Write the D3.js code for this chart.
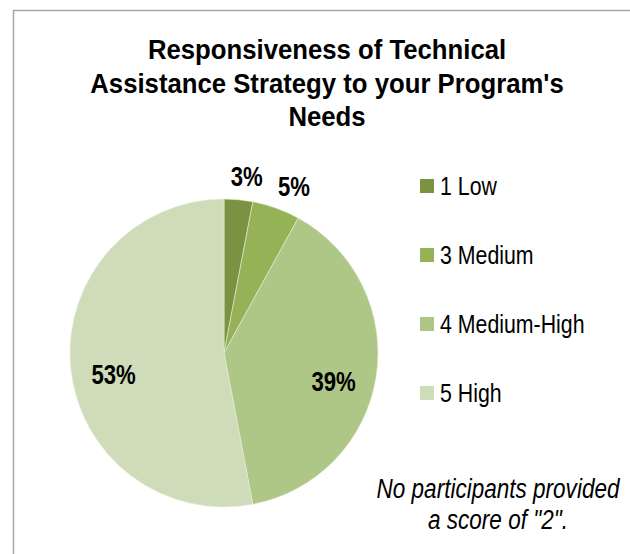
<!DOCTYPE html>
<html>
<head>
<meta charset="utf-8">
<script src="https://cdn.jsdelivr.net/npm/d3@7"></script>
<style>
  body { margin: 0; background: #fff; }
  svg text { font-family: "Liberation Sans", Arial, sans-serif; fill: #000; }
</style>
</head>
<body>
<svg id="chart" width="630" height="554"></svg>
<script>
const categories = ["1 Low", "3 Medium", "4 Medium-High", "5 High"];
const percents = [3, 5, 39, 53];
const sliceColors = ["#7a9242", "#95b256", "#afc786", "#cfdcba"];
const titleLines = ["Responsiveness of Technical", "Assistance Strategy to your Program's", "Needs"];
const noteLines = ["No participants provided", "a score of \"2\"."];

// labels in the original are Arial Narrow, so squeeze Liberation Sans
const narrow = 0.82;

const svg = d3.select("#chart");

// chart frame (runs off the right and bottom edges)
svg.append("rect")
    .attr("x", 13.5).attr("y", 10.5)
    .attr("width", 700).attr("height", 700)
    .attr("fill", "none")
    .attr("stroke", "#a6a6a6")
    .attr("stroke-width", 1.5);

svg.append("g").selectAll("g")
    .data(titleLines)
    .enter().append("g")
    .attr("transform", (d, i) => `translate(327,${59 + i * 33.5}) scale(0.99,1.04)`)
    .append("text")
    .attr("text-anchor", "middle")
    .style("font-size", "26px")
    .style("font-weight", "bold")
    .text(d => d);

const cx = 224, cy = 353, r = 154;
const data = categories.map((c, i) => ({ name: c, value: percents[i] }));
const color = d3.scaleOrdinal().domain(categories).range(sliceColors);

const pie = d3.pie().sort(null).value(d => d.value);
const arc = d3.arc().innerRadius(0).outerRadius(r);
const arcs = pie(data);

const g = svg.append("g").attr("transform", `translate(${cx},${cy})`);
g.selectAll("path")
    .data(arcs)
    .enter().append("path")
    .attr("d", arc)
    .attr("fill", d => color(d.data.name))
    .attr("stroke", "#e6ecd9")
    .attr("stroke-width", 0.6);

// label positions: small slices outside, large slices inside
const outerArc = d3.arc().innerRadius(r * 1.15).outerRadius(r * 1.15);
const innerArc = d3.arc().innerRadius(r * 0.72).outerRadius(r * 0.72);
g.selectAll("g.lbl")
    .data(arcs)
    .enter().append("g")
    .attr("class", "lbl")
    .attr("transform", d => {
        const small = d.data.value < 10;
        const p = small ? outerArc.centroid(d) : innerArc.centroid(d);
        const dx = small ? d.data.value * 2 : 0;
        const dy = small ? 0 : 11;
        return `translate(${p[0] + dx},${p[1] + dy}) scale(${narrow},1)`;
    })
    .append("text")
    .attr("text-anchor", "middle")
    .attr("dy", "0.36em")
    .style("font-size", "27px")
    .style("font-weight", "bold")
    .text(d => d.data.value + "%");

const legendY = d3.scalePoint().domain(categories).range([186, 393]);
const items = svg.append("g").selectAll("g")
    .data(categories)
    .enter().append("g")
    .attr("transform", d => `translate(420,${legendY(d)})`);
items.append("rect")
    .attr("x", 0).attr("y", -7)
    .attr("width", 14).attr("height", 14)
    .attr("fill", d => color(d));
items.append("g")
    .attr("transform", `translate(20,0) scale(${narrow},1)`)
    .append("text")
    .attr("dy", "0.36em")
    .style("font-size", "26px")
    .text(d => d);

svg.append("g").selectAll("g")
    .data(noteLines)
    .enter().append("g")
    .attr("transform", (d, i) => `translate(498,${498 + i * 31}) scale(${narrow},1)`)
    .append("text")
    .attr("text-anchor", "middle")
    .style("font-size", "27.5px")
    .style("font-style", "italic")
    .text(d => d);
</script>
</body>
</html>
